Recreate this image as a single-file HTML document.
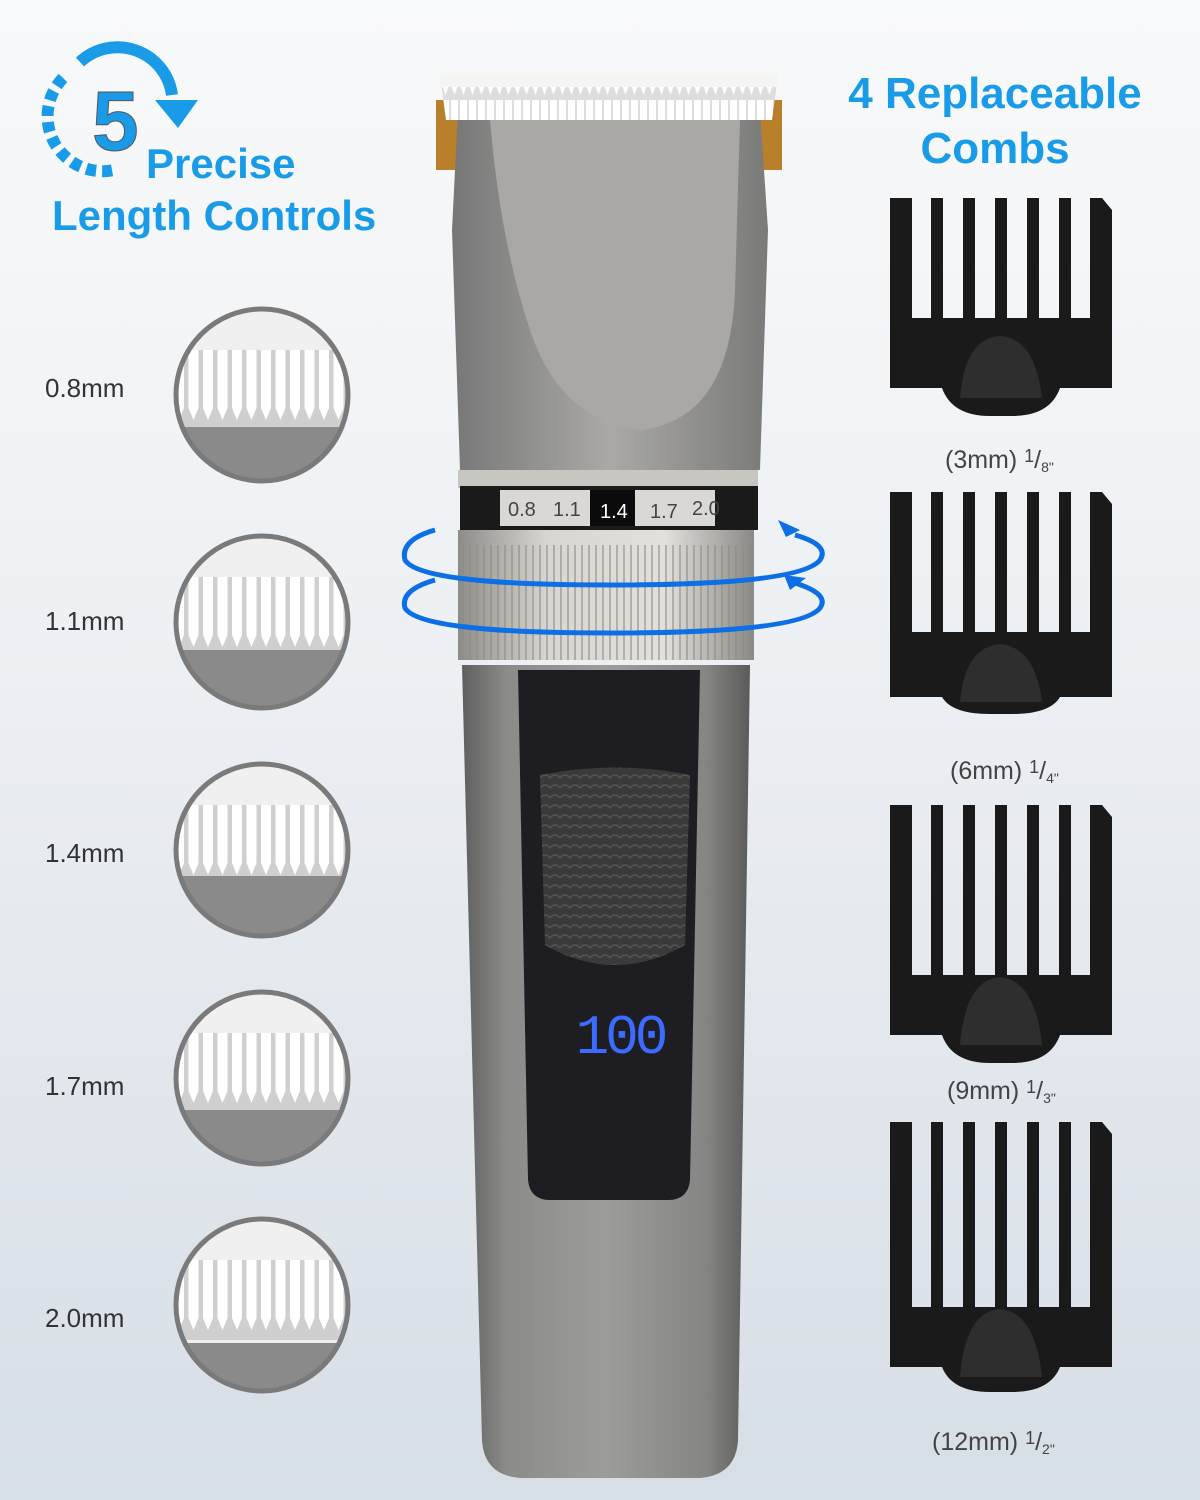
<!DOCTYPE html>
<html><head><meta charset="utf-8"><style>
html,body{margin:0;padding:0}
body{width:1200px;height:1500px;overflow:hidden;background:linear-gradient(#f8f9fa 0%,#eef1f4 40%,#d6dee6 100%);font-family:"Liberation Sans",sans-serif}
</style></head><body>
<svg width="1200" height="1500" viewBox="0 0 1200 1500" xmlns="http://www.w3.org/2000/svg" style="position:absolute;left:0;top:0">
<defs>
<linearGradient id="body" x1="0" x2="1"><stop offset="0" stop-color="#5f5f5f"/><stop offset="0.15" stop-color="#8a8a88"/><stop offset="0.5" stop-color="#9c9c9a"/><stop offset="0.85" stop-color="#858583"/><stop offset="1" stop-color="#5a5a5a"/></linearGradient>
<linearGradient id="head" x1="0" x2="1"><stop offset="0" stop-color="#777"/><stop offset="0.5" stop-color="#aaa9a6"/><stop offset="1" stop-color="#7a7a78"/></linearGradient>
<linearGradient id="ring" x1="0" x2="1"><stop offset="0" stop-color="#8d8c88"/><stop offset="0.3" stop-color="#d8d6d1"/><stop offset="0.7" stop-color="#e2e0db"/><stop offset="1" stop-color="#8a8985"/></linearGradient>
<pattern id="knurl" width="7" height="10" patternUnits="userSpaceOnUse"><rect x="0" width="2" height="10" fill="#8d8b86" opacity="0.55"/></pattern>
<pattern id="tex" width="10" height="10" patternUnits="userSpaceOnUse"><rect width="10" height="10" fill="#3a3a3a"/><path d="M0 8 Q5 2 10 8" stroke="#555" stroke-width="1.5" fill="none"/></pattern>
<pattern id="teeth" x="-90" y="-45" width="14.5" height="80" patternUnits="userSpaceOnUse"><rect width="14.5" height="80" fill="#cfcfcf"/><path d="M2 0 L2 58 L7 70 L12 58 L12 0Z" fill="#fff"/></pattern>
<pattern id="bteeth" width="9" height="50" patternUnits="userSpaceOnUse"><rect width="9" height="50" fill="#ddd"/><path d="M1 0 L1 35 L4.5 45 L8 35 L8 0Z" fill="#fff"/></pattern>
<clipPath id="cc"><circle r="84"/></clipPath>
</defs>

<!-- left title -->
<path d="M80 62 A55 55 0 0 1 172 95" stroke="#1a9be8" stroke-width="12" fill="none"/>
<polygon points="155,100 198,100 178,128" fill="#1a9be8"/>
<path d="M63 78 A55 55 0 0 0 114 170" stroke="#1a9be8" stroke-width="12" fill="none" stroke-dasharray="10 6"/>
<text x="92" y="150" font-size="84" font-weight="bold" fill="#1a9be8" stroke="#555" stroke-width="1">5</text>
<text x="146" y="178" font-size="42" font-weight="bold" fill="#1a9be8">Precise</text>
<text x="52" y="230" font-size="42" font-weight="bold" fill="#1a9be8">Length Controls</text>
<!-- right title -->
<text x="995" y="108" font-size="44" font-weight="bold" fill="#1a9be8" text-anchor="middle">4 Replaceable</text>
<text x="995" y="163" font-size="44" font-weight="bold" fill="#1a9be8" text-anchor="middle">Combs</text>

<!-- circles -->
<g font-size="26" fill="#333">
<text x="45" y="397">0.8mm</text><text x="45" y="630">1.1mm</text><text x="45" y="862">1.4mm</text><text x="45" y="1095">1.7mm</text><text x="45" y="1327">2.0mm</text>
</g>
<g transform="translate(262,395)"><g clip-path="url(#cc)"><rect x="-90" y="-90" width="180" height="180" fill="#f0f0f0"/><rect x="-90" y="-45" width="180" height="80" fill="url(#teeth)"/><rect x="-90" y="32" width="180" height="60" fill="#8a8a8a"/></g><circle r="86" fill="none" stroke="#7a7a7a" stroke-width="5"/></g>
<g transform="translate(262,622)"><g clip-path="url(#cc)"><rect x="-90" y="-90" width="180" height="180" fill="#f0f0f0"/><rect x="-90" y="-45" width="180" height="80" fill="url(#teeth)"/><rect x="-90" y="28" width="180" height="65" fill="#8a8a8a"/></g><circle r="86" fill="none" stroke="#7a7a7a" stroke-width="5"/></g>
<g transform="translate(262,850)"><g clip-path="url(#cc)"><rect x="-90" y="-90" width="180" height="180" fill="#f0f0f0"/><rect x="-90" y="-45" width="180" height="80" fill="url(#teeth)"/><rect x="-90" y="26" width="180" height="65" fill="#8a8a8a"/></g><circle r="86" fill="none" stroke="#7a7a7a" stroke-width="5"/></g>
<g transform="translate(262,1078)"><g clip-path="url(#cc)"><rect x="-90" y="-90" width="180" height="180" fill="#f0f0f0"/><rect x="-90" y="-45" width="180" height="80" fill="url(#teeth)"/><rect x="-90" y="32" width="180" height="60" fill="#8a8a8a"/></g><circle r="86" fill="none" stroke="#7a7a7a" stroke-width="5"/></g>
<g transform="translate(262,1305)"><g clip-path="url(#cc)"><rect x="-90" y="-90" width="180" height="180" fill="#f0f0f0"/><rect x="-90" y="-45" width="180" height="80" fill="url(#teeth)"/><rect x="-90" y="38" width="180" height="55" fill="#8a8a8a"/></g><circle r="86" fill="none" stroke="#7a7a7a" stroke-width="5"/></g>

<!-- clipper -->
<path d="M462 665 L750 665 L738 1440 Q736 1475 700 1478 L520 1478 Q484 1475 482 1440 Z" fill="url(#body)"/>
<path d="M518 670 L700 670 L690 1180 Q688 1200 668 1200 L550 1200 Q530 1200 528 1180 Z" fill="#1e1e22"/>
<path d="M540 775 Q615 760 690 775 L685 945 Q615 985 545 945 Z" fill="url(#tex)"/>
<text x="620" y="1053" font-size="56" fill="#3c6cff" text-anchor="middle" font-family="Liberation Mono,monospace" letter-spacing="-4">100</text>
<!-- head -->
<rect x="436" y="100" width="28" height="70" fill="#b8802a"/>
<rect x="756" y="100" width="26" height="70" fill="#b8802a"/>
<path d="M458 110 L760 110 L768 230 L760 470 L460 470 L452 230Z" fill="url(#head)"/>
<path d="M490 120 L740 120 L735 290 Q730 420 640 430 Q560 420 530 330 Q500 240 490 120Z" fill="#a9a8a5"/>
<path d="M440 75 L778 75 L772 120 L446 120Z" fill="url(#bteeth)"/>
<rect x="440" y="73" width="338" height="14" fill="#f5f5f3"/>
<!-- dial -->
<rect x="458" y="470" width="300" height="18" fill="#c8c6c1"/>
<rect x="460" y="486" width="298" height="44" fill="#1a1a1a"/>
<rect x="500" y="490" width="215" height="36" fill="#d9d8d4"/>
<rect x="590" y="490" width="45" height="36" fill="#0b0b0b"/>
<g font-size="20" fill="#444"><text x="508" y="516">0.8</text><text x="553" y="516">1.1</text><text x="600" y="518" fill="#fff">1.4</text><text x="650" y="518">1.7</text><text x="692" y="515">2.0</text></g>
<rect x="458" y="530" width="296" height="130" fill="url(#ring)"/>
<rect x="458" y="545" width="296" height="115" fill="url(#knurl)"/>
<!-- arrows -->
<g stroke="#0d6fe6" stroke-width="5" fill="none">
<path d="M435 530 Q400 540 405 560 Q420 585 610 585 Q800 585 820 560 Q830 545 795 535"/>
<path d="M435 580 Q400 590 405 608 Q420 633 610 633 Q800 633 820 608 Q830 594 795 583"/>
</g>
<polygon points="778,520 800,530 786,537" fill="#0d6fe6"/>
<polygon points="784,575 806,578 790,590" fill="#0d6fe6"/>

<!-- combs -->
<g fill="#1a1a1a">
<g transform="translate(890,198)"><path d="M0 0 L22 0 L22 120 L200 120 L200 0 L212 0 L222 12 L222 190 L170 190 Q160 218 122 218 L100 218 Q62 218 52 190 L0 190Z"/><rect x="41" y="0" width="12" height="125"/><rect x="73" y="0" width="12" height="125"/><rect x="105" y="0" width="12" height="125"/><rect x="137" y="0" width="12" height="125"/><rect x="169" y="0" width="12" height="125"/><path d="M70 200 Q75 140 110 138 Q145 140 152 200 Z" fill="#2e2e2e"/></g>
<g transform="translate(890,492)"><path d="M0 0 L22 0 L22 140 L200 140 L200 0 L212 0 L222 12 L222 205 L170 205 Q160 222 122 222 L100 222 Q62 222 52 205 L0 205Z"/><rect x="41" y="0" width="12" height="145"/><rect x="73" y="0" width="12" height="145"/><rect x="105" y="0" width="12" height="145"/><rect x="137" y="0" width="12" height="145"/><rect x="169" y="0" width="12" height="145"/><path d="M70 210 Q75 155 110 152 Q145 155 152 210 Z" fill="#2e2e2e"/></g>
<g transform="translate(890,805)"><path d="M0 0 L22 0 L22 170 L200 170 L200 0 L212 0 L222 12 L222 230 L170 230 Q160 258 122 258 L100 258 Q62 258 52 230 L0 230Z"/><rect x="41" y="0" width="12" height="175"/><rect x="73" y="0" width="12" height="175"/><rect x="105" y="0" width="12" height="175"/><rect x="137" y="0" width="12" height="175"/><rect x="169" y="0" width="12" height="175"/><path d="M70 240 Q75 175 110 172 Q145 175 152 240 Z" fill="#2e2e2e"/></g>
<g transform="translate(890,1122)"><path d="M0 0 L22 0 L22 185 L200 185 L200 0 L212 0 L222 12 L222 245 L170 245 Q160 270 122 270 L100 270 Q62 270 52 245 L0 245Z"/><rect x="41" y="0" width="12" height="190"/><rect x="73" y="0" width="12" height="190"/><rect x="105" y="0" width="12" height="190"/><rect x="137" y="0" width="12" height="190"/><rect x="169" y="0" width="12" height="190"/><path d="M70 255 Q75 190 110 187 Q145 190 152 255 Z" fill="#2e2e2e"/></g>
</g>
<g font-size="25" fill="#444">
<text x="945" y="468">(3mm) <tspan font-size="18" dy="-6">1</tspan><tspan dy="6">/</tspan><tspan font-size="14" dy="4">8"</tspan></text>
<text x="950" y="779">(6mm) <tspan font-size="18" dy="-6">1</tspan><tspan dy="6">/</tspan><tspan font-size="14" dy="4">4"</tspan></text>
<text x="947" y="1099">(9mm) <tspan font-size="18" dy="-6">1</tspan><tspan dy="6">/</tspan><tspan font-size="14" dy="4">3"</tspan></text>
<text x="932" y="1450">(12mm) <tspan font-size="18" dy="-6">1</tspan><tspan dy="6">/</tspan><tspan font-size="14" dy="4">2"</tspan></text>
</g>
</svg>
</body></html>
